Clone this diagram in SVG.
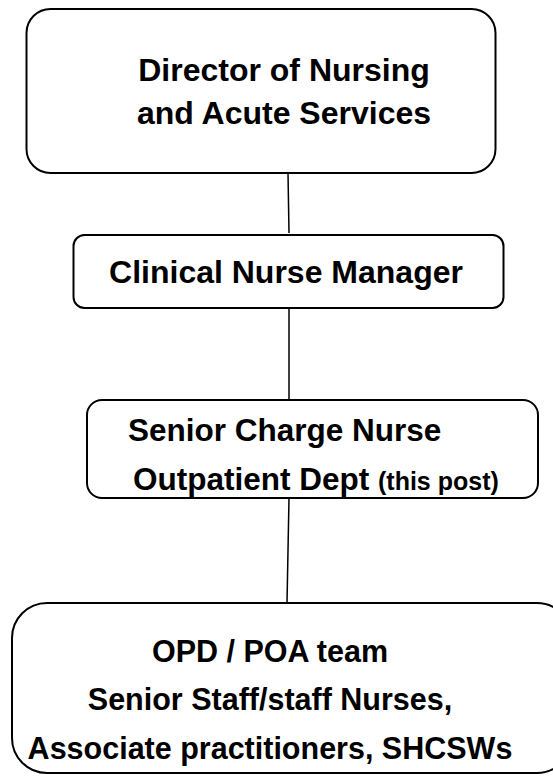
<svg xmlns="http://www.w3.org/2000/svg" width="553" height="776" viewBox="0 0 553 776">
<style>
.box{fill:#fff;stroke:#000;stroke-width:2}
.t{font-family:"Liberation Sans",Arial,sans-serif;font-weight:bold;font-size:32px;fill:#000}
.m{font-size:31.5px}
.b{font-size:30.5px}
.s{font-size:25px}
.c{stroke:#000;stroke-width:1.5;fill:none}
</style>
<rect width="553" height="776" fill="#fff"/>
<g id="connectors">
<line class="c" x1="288" y1="173" x2="289" y2="233"/>
<line class="c" x1="289" y1="308" x2="289" y2="399"/>
<line class="c" x1="289" y1="498" x2="287" y2="603"/>
</g>
<g id="director">
<rect class="box" x="26.5" y="9" width="469" height="164" rx="24"/>
<text class="t" x="284" y="81" text-anchor="middle">Director of Nursing</text>
<text class="t" x="284" y="124" text-anchor="middle">and Acute Services</text>
</g>
<g id="cnm">
<rect class="box" x="73.5" y="235" width="430" height="73" rx="11"/>
<text class="t" x="286" y="283" text-anchor="middle">Clinical Nurse Manager</text>
</g>
<g id="scn">
<rect class="box" x="87" y="400" width="451" height="98" rx="15"/>
<text class="t m" x="128" y="441">Senior Charge Nurse</text>
<text class="t m" x="133" y="490">Outpatient Dept <tspan class="s">(this post)</tspan></text>
</g>
<g id="team">
<rect class="box" x="12" y="603" width="560" height="170" rx="35"/>
<text class="t b" x="270" y="662" text-anchor="middle">OPD / POA team</text>
<text class="t b" x="270" y="710" text-anchor="middle">Senior Staff/staff Nurses,</text>
<text class="t b" x="270" y="759" text-anchor="middle">Associate practitioners, SHCSWs</text>
</g>
</svg>
